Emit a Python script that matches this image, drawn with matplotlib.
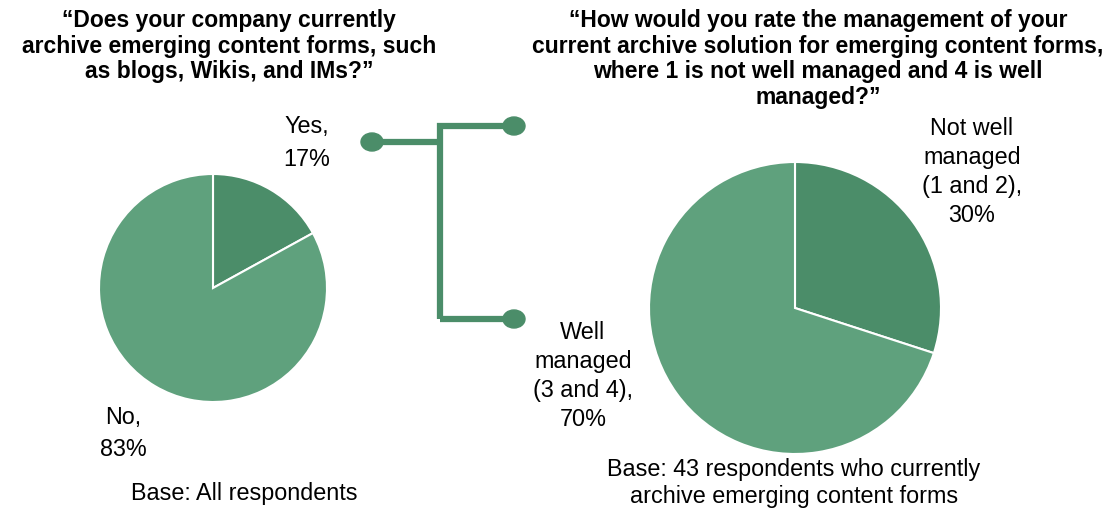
import matplotlib
matplotlib.use("Agg")
import matplotlib.pyplot as plt
from matplotlib.patches import Ellipse

# ── Datos ─────────────────────────────────────────────────────────────────────
archive_labels = ["Yes,\n17%", "No,\n83%"]
archive_values = [17, 83]

rating_labels = ["Not well\nmanaged\n(1 and 2),\n30%", "Well\nmanaged\n(3 and 4),\n70%"]
rating_values = [30, 70]

title_left = "\u201cDoes your company currently\narchive emerging content forms, such\nas blogs, Wikis, and IMs?\u201d"
title_right = ("\u201cHow would you rate the management of your\n"
               "current archive solution for emerging content forms,\n"
               "where 1 is not well managed and 4 is well\nmanaged?\u201d")
base_left = "Base: All respondents"
base_right = "Base: 43 respondents who currently\narchive emerging content forms"

C_DARK = "#4B8D69"
C_LIGHT = "#5FA17D"
FONT = "Liberation Sans"
W, H = 1117, 510

fig = plt.figure(figsize=(W / 100, H / 100), dpi=100, facecolor="white")
ax = fig.add_axes([0, 0, 1, 1])


def Y(yp):
    # coordenadas de píxel (origen arriba) a coordenadas de datos
    return H - yp


wp = {"edgecolor": "white", "linewidth": 1.5}
ax.pie(archive_values, colors=[C_DARK, C_LIGHT], startangle=90,
       counterclock=False, center=(213, Y(289)), radius=114, wedgeprops=wp)
ax.pie(rating_values, colors=[C_DARK, C_LIGHT], startangle=90,
       counterclock=False, center=(795, Y(309)), radius=146, wedgeprops=wp)

# conector entre ambos gráficos
lc = dict(color=C_DARK, linewidth=4.5, solid_capstyle="butt", solid_joinstyle="miter")
ax.plot([372, 440], [Y(143), Y(143)], **lc)
ax.plot([440, 440, 514], [Y(320), Y(127), Y(127)], **lc)
ax.plot([440, 514], [Y(320), Y(320)], **lc)
for cx, cy in [(372, 143), (514, 127), (514, 320)]:
    ax.add_patch(Ellipse((cx, Y(cy)), 22, 18, color=C_DARK, zorder=3))

tk = dict(family=FONT, ha="center", va="center", color="black")
ax.text(229, Y(46), title_left, fontsize=16.5, fontweight="bold", linespacing=1.14, **tk)
ax.text(818, Y(59), title_right, fontsize=16.5, fontweight="bold", linespacing=1.14, **tk)

ax.text(307, Y(143), archive_labels[0], fontsize=16.8, linespacing=1.58, **tk)
ax.text(123, Y(434), archive_labels[1], fontsize=16.8, linespacing=1.5, **tk)
ax.text(972, Y(172), rating_labels[0], fontsize=16.8, linespacing=1.32, **tk)
ax.text(583, Y(376), rating_labels[1], fontsize=16.8, linespacing=1.32, **tk)

ax.text(244, Y(494), base_left, fontsize=16.8, **tk)
ax.text(794, Y(483), base_right, fontsize=16.8, linespacing=1.17, **tk)

ax.set_xlim(0, W)
ax.set_ylim(0, H)
ax.set_aspect("equal")
ax.axis("off")

fig.savefig("out.png", dpi=100, facecolor="white")
